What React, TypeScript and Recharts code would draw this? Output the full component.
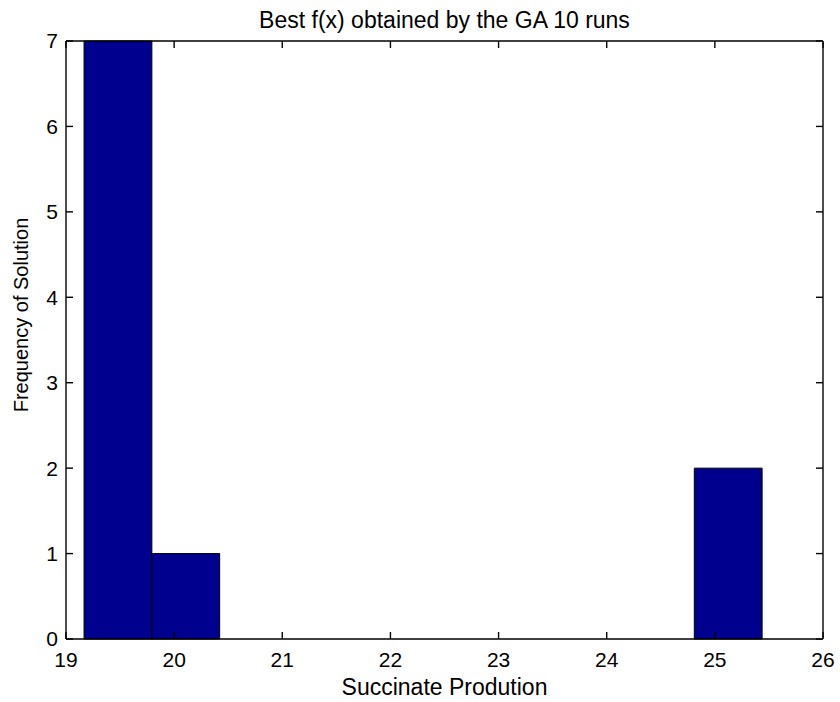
import React from 'react';
import {
  ComposedChart,
  XAxis,
  YAxis,
  ReferenceArea,
  Line,
} from 'recharts';

// Histogram of best f(x) over 10 GA runs (10 bins)
const binStart = 19.167;
const binWidth = 0.627;
const binCounts = [7, 1, 0, 0, 0, 0, 0, 0, 0, 2];
const xTicks = [19, 20, 21, 22, 23, 24, 25, 26];
const yTicks = [0, 1, 2, 3, 4, 5, 6, 7];
const title = 'Best f(x) obtained by the GA 10 runs';
const xLabel = 'Succinate Prodution';
const yLabel = 'Frequency of Solution';

const bins = binCounts.map((count, i) => ({
  x0: binStart + i * binWidth,
  x1: binStart + (i + 1) * binWidth,
  center: binStart + (i + 0.5) * binWidth,
  count,
}));

const FONT = 'Liberation Sans, Arial, Helvetica, sans-serif';
const TICK_LEN = 7;
const X_MARGIN = 13;
const Y_MARGIN = 8;
const AXIS_W = 1.4;

const BottomTick = (props: any) => {
  const { x, y, payload } = props;
  const axisY = y - X_MARGIN;
  return (
    <g>
      <line x1={x} x2={x} y1={axisY} y2={axisY - TICK_LEN} stroke="#000" strokeWidth={AXIS_W} />
      <text x={x} y={y} dy="0.71em" textAnchor="middle" fill="#000" fontSize={21} fontFamily={FONT}>
        {payload.value}
      </text>
    </g>
  );
};

const LeftTick = (props: any) => {
  const { x, y, payload } = props;
  const axisX = x + Y_MARGIN;
  return (
    <g>
      <line x1={axisX} x2={axisX + TICK_LEN} y1={y} y2={y} stroke="#000" strokeWidth={AXIS_W} />
      <text x={x} y={y} dy="0.355em" textAnchor="end" fill="#000" fontSize={21} fontFamily={FONT}>
        {payload.value}
      </text>
    </g>
  );
};

const TopTick = (props: any) => {
  const { x, y } = props;
  return <line x1={x} x2={x} y1={y} y2={y + TICK_LEN} stroke="#000" strokeWidth={AXIS_W} />;
};

const RightTick = (props: any) => {
  const { x, y } = props;
  return <line x1={x} x2={x - TICK_LEN} y1={y} y2={y} stroke="#000" strokeWidth={AXIS_W} />;
};

export default function App() {
  return (
    <div style={{ position: 'absolute', left: 0, top: 0, width: 840, height: 702, background: '#fff' }}>
      <ComposedChart
        width={840}
        height={702}
        data={bins}
        margin={{ top: 31, right: 7, bottom: 0, left: 0 }}
      >
        <XAxis
          xAxisId="b"
          dataKey="center"
          type="number"
          domain={[19, 26]}
          ticks={xTicks}
          allowDataOverflow
          height={63}
          tickSize={0}
          tickLine={false}
          tickMargin={X_MARGIN}
          stroke="#000"
          strokeWidth={AXIS_W}
          tick={<BottomTick />}
          label={{
            value: xLabel,
            content: (p: any) => {
              const vb = p.viewBox || {};
              const cx = (vb.x ?? 66) + (vb.width ?? 757) / 2;
              return (
                <text x={cx} y={695} textAnchor="middle" fill="#000" fontSize={23} fontFamily={FONT}>
                  {xLabel}
                </text>
              );
            },
          }}
        />
        <XAxis
          xAxisId="t"
          orientation="top"
          dataKey="center"
          type="number"
          domain={[19, 26]}
          ticks={xTicks}
          allowDataOverflow
          height={10}
          tickSize={0}
          tickLine={false}
          tickMargin={0}
          stroke="#000"
          strokeWidth={AXIS_W}
          tick={<TopTick />}
          label={{
            value: title,
            content: (p: any) => {
              const vb = p.viewBox || {};
              const cx = (vb.x ?? 66) + (vb.width ?? 757) / 2;
              return (
                <text x={cx} y={28} textAnchor="middle" fill="#000" fontSize={23} fontFamily={FONT}>
                  {title}
                </text>
              );
            },
          }}
        />
        <YAxis
          yAxisId="l"
          type="number"
          domain={[0, 7]}
          ticks={yTicks}
          allowDataOverflow
          width={66}
          tickSize={0}
          tickLine={false}
          tickMargin={Y_MARGIN}
          stroke="#000"
          strokeWidth={AXIS_W}
          tick={<LeftTick />}
          label={{
            value: yLabel,
            content: (p: any) => {
              const vb = p.viewBox || {};
              const cy = (vb.y ?? 41) + (vb.height ?? 598) / 2 - 25;
              return (
                <text
                  x={28}
                  y={cy}
                  transform={`rotate(-90 28 ${cy})`}
                  textAnchor="middle"
                  fill="#000"
                  fontSize={20}
                  fontFamily={FONT}
                >
                  {yLabel}
                </text>
              );
            },
          }}
        />
        <YAxis
          yAxisId="r"
          orientation="right"
          type="number"
          domain={[0, 7]}
          ticks={yTicks}
          allowDataOverflow
          width={10}
          tickSize={0}
          tickLine={false}
          tickMargin={0}
          stroke="#000"
          strokeWidth={AXIS_W}
          tick={<RightTick />}
        />
        <Line
          xAxisId="b"
          yAxisId="l"
          dataKey="count"
          stroke="none"
          dot={false}
          activeDot={false}
          isAnimationActive={false}
        />
        <Line
          xAxisId="t"
          yAxisId="r"
          dataKey="count"
          stroke="none"
          dot={false}
          activeDot={false}
          isAnimationActive={false}
        />
        {bins
          .filter((b) => b.count > 0)
          .map((b, i) => (
            <ReferenceArea
              key={i}
              xAxisId="b"
              yAxisId="l"
              x1={b.x0}
              x2={b.x1}
              y1={0}
              y2={b.count}
              fill="#00008F"
              fillOpacity={1}
              stroke="#000"
              strokeWidth={1}
              ifOverflow="visible"
            />
          ))}
      </ComposedChart>
    </div>
  );
}
